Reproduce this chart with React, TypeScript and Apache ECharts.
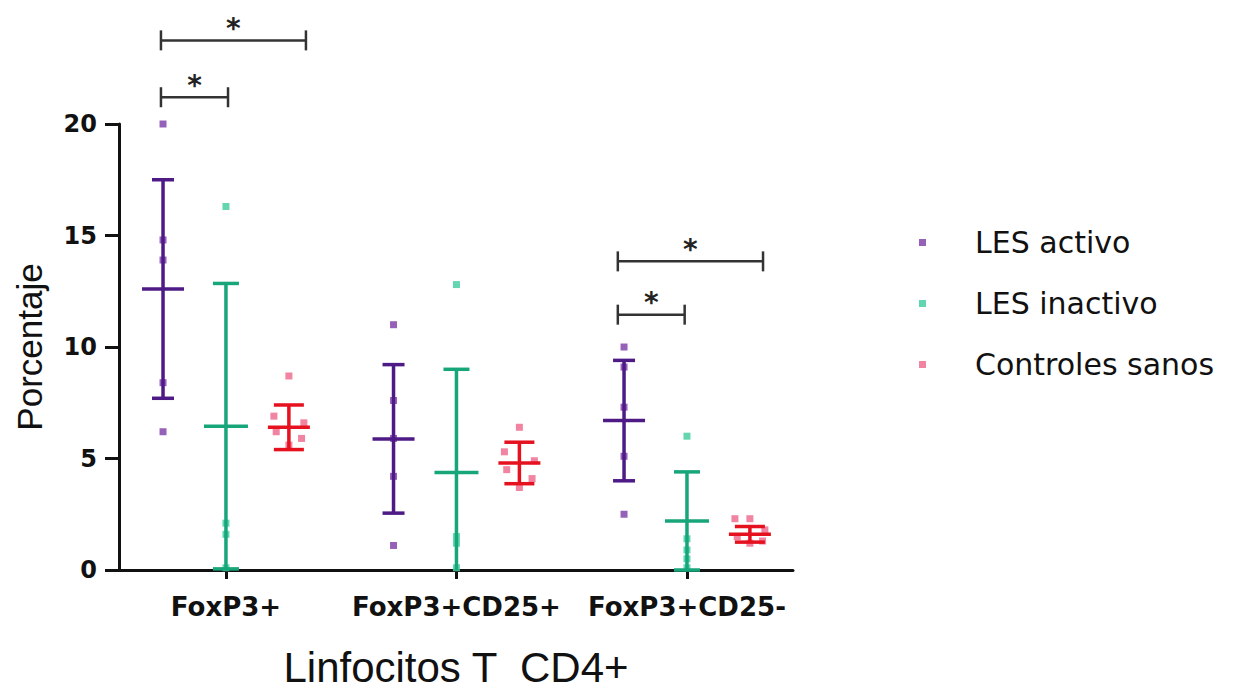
import React, { useEffect, useRef } from "react";
import * as echarts from "echarts";

// ---- data ----
const categories = ["FoxP3+", "FoxP3+CD25+", "FoxP3+CD25-"];
const seriesNames = ["LES activo", "LES inactivo", "Controles sanos"];

// individual points per category
const activoPoints = [
  [20.0, 14.8, 13.9, 8.4, 6.2],
  [11.0, 7.6, 5.9, 4.2, 1.1],
  [10.0, 9.1, 7.3, 5.1, 2.5],
];
const inactivoPoints = [
  [16.3, 2.1, 1.6, 0.1],
  [12.8, 1.5, 1.2, 0.1],
  [6.0, 1.4, 0.9, 0.5, 0.1],
];
const controlesPoints = [
  [8.7, 6.9, 6.6, 6.2, 5.9, 5.6],
  [6.4, 5.3, 4.9, 4.5, 4.1, 3.7],
  [2.3, 2.3, 1.8, 1.5, 1.3, 1.2],
];
const controlesJitter = [0, -0.065, 0.065, -0.055, 0.055, 0];

// mean and SD per category
const activoMean = [12.6, 5.88, 6.7];
const activoSD = [4.9, 3.33, 2.7];
const inactivoMean = [6.45, 4.37, 2.2];
const inactivoSD = [6.4, 4.63, 2.2];
const controlesMean = [6.4, 4.8, 1.6];
const controlesSD = [1.0, 0.93, 0.35];

// significance brackets: category, left/right offset, y level
const brackets = [
  { cat: 0, from: -0.282, to: 0.347, y: 23.75 },
  { cat: 0, from: -0.282, to: 0.009, y: 21.2 },
  { cat: 2, from: -0.3, to: 0.33, y: 13.84 },
  { cat: 2, from: -0.3, to: -0.01, y: 11.45 },
];

const yTicks = { min: 0, max: 20, interval: 5 };

// ---- styles ----
const OFFSET = 0.273;
const pointColors = ["#8447ad", "#48cfa3", "#ee6f8f"];
const barColors = ["#4e1a86", "#17a57a", "#e5111f"];
const capHalf = [11, 13, 15];
const meanHalf = [21, 22, 21];

export default function App() {
  const ref = useRef<HTMLDivElement>(null);

  useEffect(() => {
    document.body.style.margin = "0";
    const chart = echarts.init(ref.current!, null, { renderer: "svg" });

    const pointSets = [activoPoints, inactivoPoints, controlesPoints];
    const means = [activoMean, inactivoMean, controlesMean];
    const sds = [activoSD, inactivoSD, controlesSD];
    const offsets = [-OFFSET, 0, OFFSET];

    const scatterSeries = seriesNames.map((name, s) => ({
      name,
      type: "scatter",
      symbol: "rect",
      symbolSize: 7,
      itemStyle: { color: pointColors[s], opacity: 0.85 },
      z: 2,
      data: pointSets[s].flatMap((vals, c) =>
        vals.map((v, i) => [
          c + offsets[s] + (s === 2 ? controlesJitter[i % controlesJitter.length] : 0),
          v,
        ])
      ),
    }));

    const errData: any[] = [];
    for (let s = 0; s < 3; s++) {
      for (let c = 0; c < categories.length; c++) {
        errData.push([c + offsets[s], means[s][c], means[s][c] - sds[s][c], means[s][c] + sds[s][c], s]);
      }
    }

    const errorSeries = {
      type: "custom",
      z: 3,
      encode: { x: 0, y: [1, 2, 3] },
      data: errData,
      renderItem: (params: any, api: any) => {
        const x = api.value(0);
        const mean = api.value(1);
        const lo = api.value(2);
        const hi = api.value(3);
        const s = api.value(4);
        const color = barColors[s];
        const pm = api.coord([x, mean]);
        const ph = api.coord([x, hi]);
        const clipped = lo < 0;
        const pl = api.coord([x, Math.max(lo, 0)]);
        const style = { stroke: color, lineWidth: 3.5 };
        const children: any[] = [
          { type: "line", shape: { x1: ph[0], y1: ph[1], x2: pl[0], y2: pl[1] }, style },
          { type: "line", shape: { x1: pm[0] - meanHalf[s], y1: pm[1], x2: pm[0] + meanHalf[s], y2: pm[1] }, style },
          { type: "line", shape: { x1: ph[0] - capHalf[s], y1: ph[1], x2: ph[0] + capHalf[s], y2: ph[1] }, style },
        ];
        if (!clipped) {
          children.push({ type: "line", shape: { x1: pl[0] - capHalf[s], y1: pl[1], x2: pl[0] + capHalf[s], y2: pl[1] }, style });
        }
        return { type: "group", children };
      },
    };

    const bracketSeries = {
      type: "custom",
      z: 4,
      clip: false,
      encode: { x: [0, 1], y: 2 },
      data: brackets.map((b) => [b.cat + b.from, b.cat + b.to, b.y]),
      renderItem: (params: any, api: any) => {
        const p1 = api.coord([api.value(0), api.value(2)]);
        const p2 = api.coord([api.value(1), api.value(2)]);
        const style = { stroke: "#333", lineWidth: 2.5 };
        const h = 10;
        return {
          type: "group",
          children: [
            { type: "line", shape: { x1: p1[0], y1: p1[1], x2: p2[0], y2: p2[1] }, style },
            { type: "line", shape: { x1: p1[0], y1: p1[1] - h, x2: p1[0], y2: p1[1] + h }, style },
            { type: "line", shape: { x1: p2[0], y1: p2[1] - h, x2: p2[0], y2: p2[1] + h }, style },
            {
              type: "text",
              style: {
                text: "*",
                x: (p1[0] + p2[0]) / 2,
                y: p1[1] - 12,
                fill: "#222",
                font: "bold 28px 'DejaVu Sans'",
                align: "center",
                verticalAlign: "middle",
              },
            },
          ],
        };
      },
    };

    chart.setOption({
      animation: false,
      backgroundColor: "#ffffff",
      grid: { left: 119, right: 456, top: 124, bottom: 121 },
      legend: {
        data: seriesNames,
        orient: "vertical",
        left: 914,
        top: 222,
        icon: "rect",
        itemWidth: 7,
        itemHeight: 7,
        itemGap: 30,
        textStyle: {
          fontFamily: "DejaVu Sans",
          fontSize: 30,
          color: "#111",
          lineHeight: 31,
          padding: [0, 0, 0, 44],
        },
      },
      xAxis: {
        type: "value",
        min: -0.464,
        max: 2.46,
        splitLine: { show: false },
        axisLine: { show: true, onZero: false, lineStyle: { color: "#111", width: 3 } },
        axisTick: { show: true, customValues: [0, 1, 2], length: 9, lineStyle: { color: "#111", width: 3 } },
        axisLabel: {
          customValues: [0, 1, 2],
          formatter: (v: number) => categories[Math.round(v)] ?? "",
          fontFamily: "DejaVu Sans",
          fontWeight: "bold",
          fontSize: 26,
          color: "#111",
          margin: 24,
        },
        name: "Linfocitos T  CD4+",
        nameLocation: "middle",
        nameGap: 76,
        nameTextStyle: { fontFamily: "Liberation Sans", fontSize: 42, color: "#111" },
      },
      yAxis: {
        type: "value",
        min: yTicks.min,
        max: yTicks.max,
        interval: yTicks.interval,
        splitLine: { show: false },
        axisLine: { show: true, onZero: false, lineStyle: { color: "#111", width: 3 } },
        axisTick: { show: true, length: 14, lineStyle: { color: "#111", width: 3 } },
        axisLabel: {
          fontFamily: "DejaVu Sans",
          fontWeight: "bold",
          fontSize: 24,
          color: "#111",
          margin: 22,
        },
        name: "Porcentaje",
        nameLocation: "middle",
        nameGap: 72,
        nameTextStyle: { fontFamily: "Liberation Sans", fontSize: 35, color: "#111" },
      },
      series: [...scatterSeries, errorSeries, bracketSeries],
    });

    return () => chart.dispose();
  }, []);

  return <div ref={ref} style={{ width: 1249, height: 693 }} />;
}
